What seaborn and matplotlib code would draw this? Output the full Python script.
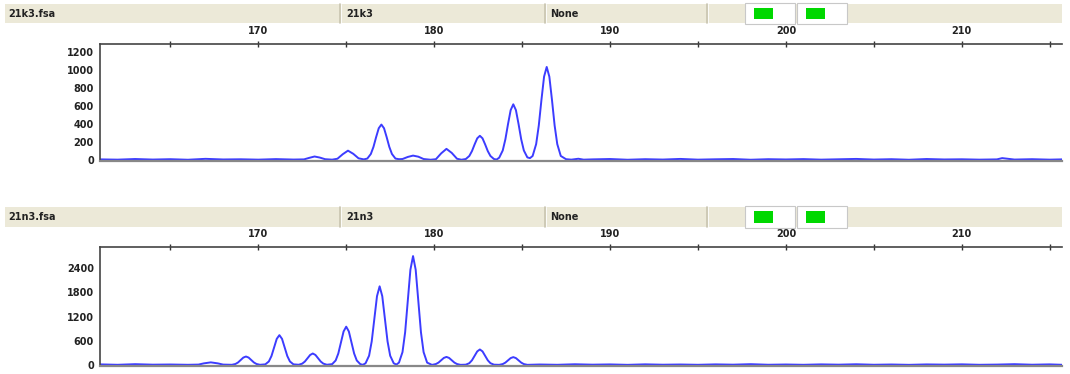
import numpy as np
import pandas as pd
import matplotlib
matplotlib.use("Agg")
import matplotlib.pyplot as plt
from matplotlib.patches import Rectangle
from matplotlib.ticker import MultipleLocator
import seaborn as sns

# ---------------- data ----------------
file_names = ["21k3.fsa", "21n3.fsa"]
sample_names = ["21k3", "21n3"]
panel_status = ["None", "None"]
x_major_ticks = [170, 180, 190, 200, 210]

top_size = [161, 162, 163, 164, 165, 166, 167, 168, 169, 170, 171, 172,
            172.6, 172.9, 173.2, 173.5, 173.8, 174.2,
            174.5, 174.8, 175.1, 175.4, 175.7, 176.0,
            176.2, 176.4, 176.55, 176.7, 176.85, 177.0, 177.15, 177.3, 177.45, 177.6, 177.8, 178.0,
            178.2, 178.5, 178.8, 179.1, 179.4, 179.8,
            180.1, 180.4, 180.7, 181.0, 181.3, 181.55,
            181.8, 182.0, 182.15, 182.3, 182.45, 182.6, 182.75, 182.9, 183.05, 183.2, 183.4, 183.55,
            183.7, 183.9, 184.05, 184.2, 184.35, 184.5, 184.65, 184.8, 184.95, 185.1, 185.3, 185.45,
            185.6, 185.8, 185.95, 186.1, 186.25, 186.4, 186.55, 186.7, 186.85, 187.0, 187.2, 187.5, 187.8,
            188.2, 188.5, 189, 190, 191, 192, 193, 194, 195, 196, 197, 198, 199, 200,
            201, 202, 203, 204, 205, 206, 207, 208, 209, 210, 211, 212, 212.3, 213, 214, 215, 215.7]
top_rfu = [8, 5, 12, 6, 10, 4, 14, 7, 9, 5, 11, 6,
           8, 25, 40, 28, 10, 5,
           15, 65, 105, 70, 20, 8,
           17, 68, 147, 255, 354, 395, 354, 255, 147, 68, 17, 10,
           12, 35, 50, 38, 12, 4,
           10, 75, 125, 80, 15, 4,
           12, 46, 100, 174, 242, 270, 242, 174, 100, 46, 12, 6,
           27, 107, 231, 400, 555, 620, 555, 400, 231, 107, 30, 22,
           46, 178, 385, 668, 927, 1035, 927, 668, 385, 178, 46, 10, 5,
           15, 5, 8, 12, 4, 10, 6, 13, 5, 9, 12, 4, 10, 7,
           11, 5, 9, 13, 6, 10, 4, 12, 7, 9, 5, 8, 22, 6, 10, 5, 8]

bot_size = [161, 162, 163, 164, 165, 166,
            166.6, 166.9, 167.3, 167.7, 168.0,
            168.5, 168.7, 168.85, 169.0, 169.15, 169.3, 169.45, 169.6, 169.75, 169.9, 170.1,
            170.4, 170.6, 170.75, 170.9, 171.05, 171.2, 171.35, 171.5, 171.65, 171.8, 172.0,
            172.3, 172.5, 172.65, 172.8, 172.95, 173.1, 173.25, 173.4, 173.55, 173.7, 173.9,
            174.2, 174.4, 174.55, 174.7, 174.85, 175.0, 175.15, 175.3, 175.45, 175.6, 175.8, 175.95,
            176.1, 176.3, 176.45, 176.6, 176.75, 176.9, 177.05, 177.2, 177.35, 177.5, 177.7, 177.85,
            178.0, 178.2, 178.35, 178.5, 178.65, 178.8, 178.95, 179.1, 179.25, 179.4, 179.6, 179.85,
            179.9, 180.1, 180.25, 180.4, 180.55, 180.7, 180.85, 181.0, 181.15, 181.3, 181.5,
            181.8, 182.0, 182.15, 182.3, 182.45, 182.6, 182.75, 182.9, 183.05, 183.2, 183.4,
            183.7, 183.9, 184.05, 184.2, 184.35, 184.5, 184.65, 184.8, 184.95, 185.1, 185.3,
            186, 187, 188, 189, 190, 191, 192, 193, 194, 195, 196, 197, 198, 199, 200,
            201, 202, 203, 204, 205, 206, 207, 208, 209, 210, 211, 212, 213, 214, 215, 215.7]
bot_rfu = [15, 5, 20, 8, 12, 5,
           10, 40, 65, 40, 10,
           5, 25, 63, 123, 184, 210, 184, 123, 63, 25, 5,
           16, 87, 222, 434, 648, 740, 648, 434, 222, 87, 16,
           6, 34, 86, 167, 249, 285, 249, 167, 86, 34, 6,
           21, 112, 285, 557, 831, 950, 831, 557, 285, 112, 21, 5,
           43, 230, 585, 1143, 1706, 1950, 1706, 1143, 585, 230, 43, 10,
           59, 319, 810, 1582, 2362, 2700, 2362, 1582, 810, 319, 59, 8,
           4, 24, 60, 117, 175, 200, 175, 117, 60, 24, 4,
           8, 45, 116, 226, 337, 385, 337, 226, 116, 45, 8,
           4, 23, 59, 114, 171, 195, 171, 114, 59, 23, 4,
           12, 5, 18, 8, 14, 4, 16, 7, 12, 5, 15, 8, 20, 6, 12,
           5, 15, 8, 18, 6, 12, 4, 14, 9, 16, 5, 10, 20, 7, 15, 5]

top_yticks = [0, 200, 400, 600, 800, 1000, 1200]
bot_yticks = [0, 600, 1200, 1800, 2400]

# ---------------- drawing ----------------
sns.set_style("white")
plt.rcParams["font.family"] = ["DejaVu Sans"]
W, H = 1070, 374
fig = plt.figure(figsize=(W / 100, H / 100), dpi=100)

def fx(px):
    return px / W

def fy(py):
    return 1 - py / H

trace_color = "#3c3cff"
header_bg = "#ece9d8"

def draw_header(top_py, bot_py, fname, sname, status):
    hax = fig.add_axes([0, 0, 1, 1], zorder=5)
    hax.set_xlim(0, W)
    hax.set_ylim(H, 0)
    hax.axis("off")
    hax.patch.set_alpha(0)
    h = bot_py - top_py
    hax.add_patch(Rectangle((5, top_py), 1057, h, facecolor=header_bg, edgecolor="none"))
    for dx in [340, 545, 707]:
        hax.plot([dx, dx], [top_py, bot_py], color="#c8c4b0", lw=1.2)
        hax.plot([dx + 1.2, dx + 1.2], [top_py, bot_py], color="#ffffff", lw=0.6)
    for bx in [745, 797]:
        hax.add_patch(Rectangle((bx, top_py - 1), 50, h + 2, facecolor="white",
                                edgecolor="#c8c8c8", lw=0.8))
        hax.add_patch(Rectangle((bx + 9, top_py + 4), 19, h - 8, facecolor="#00d800",
                                edgecolor="none"))
    kw = dict(fontsize=7, fontweight="bold", va="center", ha="left", color="#222222")
    cy = (top_py + bot_py) / 2
    hax.text(8, cy, fname, **kw)
    hax.text(346, cy, sname, **kw)
    hax.text(550, cy, status, **kw)

def draw_panel(rect_px, sizes, rfu, ylim, yticks, yminor):
    l, t, r, b = rect_px
    ax = fig.add_axes([fx(l), fy(b), fx(r - l), (b - t) / H])
    df = pd.DataFrame({"size": sizes, "rfu": rfu})
    sns.lineplot(data=df, x="size", y="rfu", ax=ax, color=trace_color, lw=1.4,
                 estimator=None, sort=True)
    ax.set_xlim(161.0, 215.7)
    ax.set_ylim(*ylim)
    ax.set_xlabel("")
    ax.set_ylabel("")
    ax.xaxis.tick_top()
    ax.set_xticks(x_major_ticks)
    ax.xaxis.set_minor_locator(MultipleLocator(5))
    ax.set_yticks(yticks)
    ax.yaxis.set_minor_locator(MultipleLocator(yminor))
    ax.tick_params(axis="x", which="both", direction="inout", length=5, width=1,
                   color="#333333", labelsize=7, pad=3, top=True, bottom=False)
    ax.tick_params(axis="y", which="both", direction="inout", length=5, width=1,
                   color="#333333", labelsize=7, pad=2)
    for lab in ax.get_xticklabels() + ax.get_yticklabels():
        lab.set_fontweight("bold")
        lab.set_color("#222222")
    for s in ["top", "left"]:
        ax.spines[s].set_color("#444444")
        ax.spines[s].set_linewidth(1.2)
    ax.spines["bottom"].set_color("#888888")
    ax.spines["bottom"].set_linewidth(1.6)
    ax.spines["right"].set_visible(False)
    ax.patch.set_alpha(0)
    return ax

draw_header(4, 23, file_names[0], sample_names[0], panel_status[0])
draw_panel((100, 44, 1062, 161), top_size, top_rfu, (-10, 1290), top_yticks, 100)

draw_header(207, 227, file_names[1], sample_names[1], panel_status[1])
draw_panel((100, 247, 1062, 366), bot_size, bot_rfu, (-25, 2925), bot_yticks, 300)

fig.savefig("out.png", dpi=100, facecolor="white")
